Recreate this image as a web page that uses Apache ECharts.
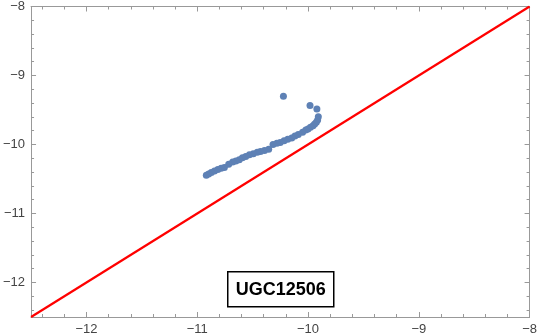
<!DOCTYPE html>
<html>
<head>
<meta charset="utf-8">
<script src="https://cdn.jsdelivr.net/npm/echarts@6/dist/echarts.min.js"></script>
<style>
  html, body { margin: 0; padding: 0; background: #fff; }
  #chart { width: 540px; height: 336px; }
</style>
</head>
<body>
<div id="chart"></div>
<script>
// x = log quantity, y = log quantity
const xVals = [-10.222, -9.982, -9.920, -9.907, -9.913, -9.925, -9.940, -9.955, -9.978, -10.000,
  -10.020, -10.049, -10.088, -10.118, -10.147, -10.183, -10.216, -10.251, -10.281, -10.316,
  -10.355, -10.393, -10.429, -10.458, -10.494, -10.529, -10.562, -10.592, -10.621, -10.651,
  -10.680, -10.716, -10.755, -10.784, -10.814, -10.844, -10.873, -10.897, -10.918]
const yVals = [-9.300, -9.434, -9.486, -9.597, -9.645, -9.679, -9.702, -9.727, -9.751, -9.775,
  -9.789, -9.823, -9.856, -9.875, -9.904, -9.924, -9.947, -9.971, -9.981, -10.000,
  -10.068, -10.086, -10.101, -10.111, -10.134, -10.148, -10.173, -10.191, -10.220, -10.240,
  -10.255, -10.288, -10.335, -10.345, -10.364, -10.384, -10.407, -10.427, -10.446]
const axisRange = [-12.5, -8]
const lineX = [-12.5, -8]   // y = x reference line
const galaxyName = 'UGC12506'

const frameColor = '#999'
const labelFont = { color: '#444', fontSize: 13, fontFamily: 'Liberation Sans, Arial, sans-serif' }

const fmt = v => (Math.abs(v - Math.round(v)) < 1e-6 ? String(Math.round(v)).replace('-', '\u2212') : '')

function frameAxis (position, showLabel) {
  return {
    type: 'value',
    position: position,
    min: axisRange[0],
    max: axisRange[1],
    minInterval: 1,
    maxInterval: 1,
    axisLine: { show: true, onZero: false, lineStyle: { color: frameColor, width: 1 } },
    axisTick: { show: true, inside: true, length: 5, lineStyle: { color: frameColor } },
    minorTick: { show: true, splitNumber: 5, length: 3, lineStyle: { color: frameColor } },
    splitLine: { show: false },
    minorSplitLine: { show: false },
    axisLabel: Object.assign({ show: showLabel, formatter: fmt, margin: 6 }, labelFont)
  }
}

const chart = echarts.init(document.getElementById('chart'), null, { renderer: 'canvas' })

const points = xVals.map((x, i) => [x, yVals[i]])

const option = {
  animation: false,
  grid: { left: 27, right: 7, top: 5, bottom: 18, containLabel: false },
  xAxis: [frameAxis('bottom', true), frameAxis('top', false)],
  yAxis: [frameAxis('left', true), frameAxis('right', false)],
  series: [
    {
      type: 'line',
      data: lineX.map(v => [v, v]),
      symbol: 'none',
      lineStyle: { color: '#ff0000', width: 2.2 },
      z: 2
    },
    {
      type: 'scatter',
      data: points,
      symbolSize: 7,
      itemStyle: { color: '#5e81b5', opacity: 1 },
      z: 3
    }
  ],
  graphic: [
    {
      type: 'group',
      left: 227,
      top: 271,
      children: [
        { type: 'rect', shape: { x: 0, y: 0, width: 106, height: 35 },
          style: { fill: '#fff', stroke: '#000', lineWidth: 1.5 } },
        { type: 'text', x: 53, y: 18,
          style: { text: galaxyName, fill: '#000', font: 'bold 18px Liberation Sans, Arial, sans-serif',
            align: 'center', verticalAlign: 'middle' } }
      ]
    }
  ]
}

chart.setOption(option)
</script>
</body>
</html>
